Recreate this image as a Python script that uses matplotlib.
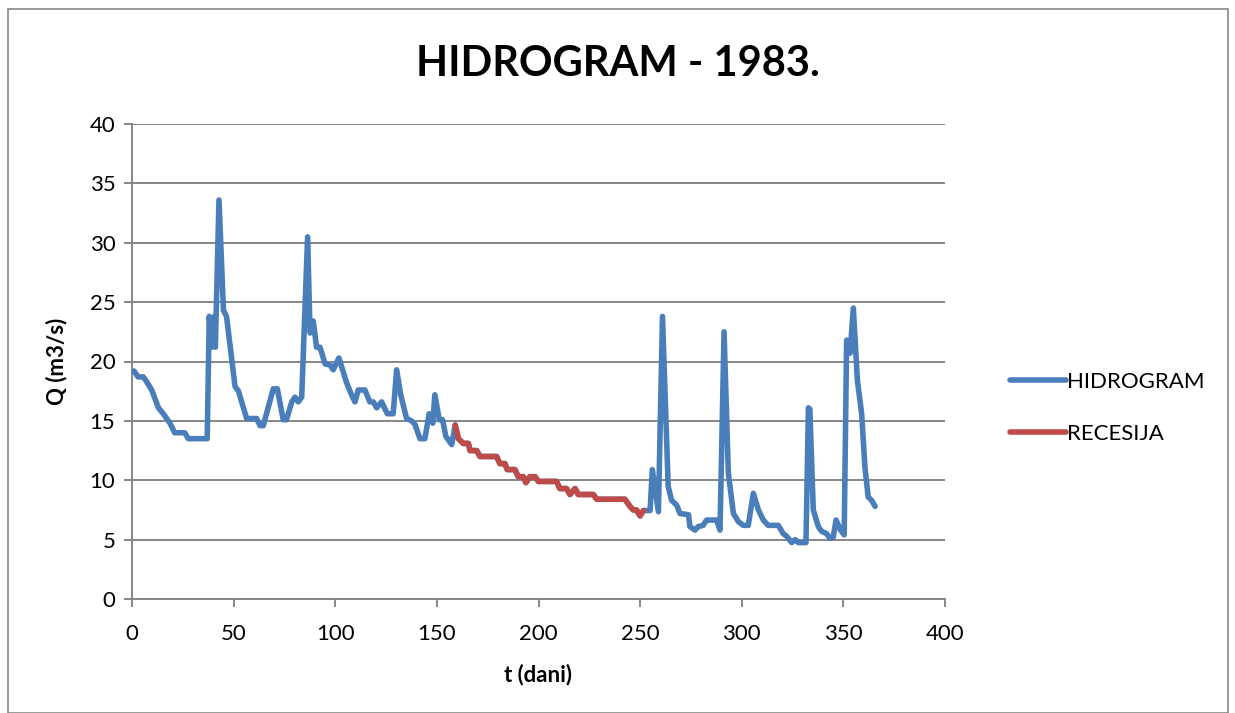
import matplotlib
matplotlib.use("Agg")
import matplotlib.pyplot as plt
from matplotlib.patches import Rectangle

# --- data ---
days_before = [1, 3, 5.6, 7.2, 9.7, 13, 15.4, 18.7, 21, 26, 27.7, 37, 38, 39.2, 40.5, 41,
               42.8, 45, 46.5, 50.7, 52.4, 56.4, 61.3, 63, 64.6, 69.5, 71.5, 74.4, 76,
               78.6, 80.2, 81.8, 83.5, 86.4, 87.6, 89.2, 90.8, 92.5, 95, 97.5, 99, 101.8,
               105.6, 108, 109.7, 111.3, 114.6, 117, 118.7, 120.4, 122.8, 125.6, 128.5,
               130.2, 132.2, 135.1, 137.6, 139.2, 141.7, 144.1, 146.2, 148, 149, 151.2,
               152.8, 154.4, 157.3, 159]
q_before = [19.2, 18.7, 18.7, 18.3, 17.6, 16.1, 15.6, 14.8, 14.0, 14.0, 13.5, 13.5, 23.8, 21.2,
            23.8, 21.2, 33.6, 24.3, 23.8, 17.9, 17.5, 15.2, 15.2, 14.6, 14.6, 17.7, 17.7, 15.1,
            15.1, 16.6, 17.0, 16.6, 17.0, 30.5, 22.4, 23.4, 21.2, 21.2, 19.8, 19.7, 19.3, 20.3,
            18.2, 17.2, 16.6, 17.6, 17.6, 16.6, 16.6, 16.1, 16.6, 15.6, 15.6, 19.3, 17.2, 15.2,
            15.0, 14.7, 13.5, 13.5, 15.6, 14.8, 17.2, 15.1, 15.1, 13.7, 13.0, 14.65]

days_rec = [159, 160.6, 163, 165.5, 166.3, 169.6, 171.2, 179.4, 181, 183.5, 184.6, 188.4, 190,
            192.5, 193.8, 195.8, 198.3, 199.9, 208.9, 210.5, 213.8, 215.5, 218, 219.6, 227,
            228.6, 242.5, 245, 246.6, 248.2, 250, 251.6]
q_rec = [14.65, 13.5, 13.1, 13.1, 12.5, 12.5, 12.0, 12.0, 11.4, 11.4, 10.9, 10.9, 10.3, 10.3,
         9.8, 10.3, 10.3, 9.9, 9.9, 9.3, 9.3, 8.8, 9.3, 8.8, 8.8, 8.4, 8.4, 7.8, 7.5, 7.5,
         7.0, 7.45]

days_after = [251.6, 254.9, 256, 259, 261, 263.8, 265.5, 268, 269.6, 273.8, 274.5, 277, 278.6,
              281, 282.7, 287.6, 289.3, 291.3, 293.4, 295.9, 298.4, 300.8, 303.2, 305.7, 308.2,
              310.6, 313, 318, 320.4, 322, 324.6, 326.3, 327.9, 331.6, 332.8, 333.5, 335.2,
              337.7, 339.3, 341.8, 343.4, 345, 346.4, 348.6, 350.4, 351.6, 353.3, 354.9, 356.9,
              359, 360.6, 362.2, 363.9, 365.6]
q_after = [7.45, 7.45, 10.9, 7.35, 23.8, 9.5, 8.3, 7.9, 7.2, 7.1, 6.1, 5.8, 6.1, 6.2, 6.65, 6.65,
           5.8, 22.5, 10.6, 7.2, 6.5, 6.2, 6.2, 8.9, 7.5, 6.65, 6.2, 6.2, 5.5, 5.3, 4.75, 5.0,
           4.75, 4.75, 16.1, 16.0, 7.5, 6.1, 5.7, 5.5, 5.1, 5.2, 6.65, 5.8, 5.4, 21.8, 20.7, 24.5,
           18.4, 15.6, 11.1, 8.6, 8.3, 7.8]

title = "HIDROGRAM - 1983."
xlabel = "t (dani)"
ylabel = "Q (m3/s)"
series_names = ["HIDROGRAM", "RECESIJA"]
x_ticks = [0, 50, 100, 150, 200, 250, 300, 350, 400]
y_ticks = [0, 5, 10, 15, 20, 25, 30, 35, 40]

plt.rcParams['font.family'] = ['Lato', 'DejaVu Sans']

fig = plt.figure(figsize=(12.35, 7.13), dpi=100)
ax = fig.add_axes([132/1235, 1-599/713, (945-132)/1235, (599-124)/713])

# outer chart border
fig.patches.append(Rectangle((8/1235, 0), (1228-8)/1235, 1-9/713, transform=fig.transFigure,
                             fill=False, edgecolor='#888888', linewidth=1.2, clip_on=False))

blue = '#4A7EBB'
red = '#BE4B48'
ax.plot(days_before + days_rec[1:] + days_after[1:], q_before + q_rec[1:] + q_after[1:],
        color=blue, lw=4.0, solid_joinstyle='round', solid_capstyle='round',
        label=series_names[0], zorder=3)
ax.plot(days_rec, q_rec, color=red, lw=4.0, solid_joinstyle='round', solid_capstyle='round',
        label=series_names[1], zorder=4)

ax.set_xlim(0, 400)
ax.set_ylim(0, 40)
ax.set_xticks(x_ticks)
ax.set_yticks(y_ticks)
ax.grid(axis='y', color='#868686', lw=1.4)
ax.set_axisbelow(True)
for s in ['top', 'right']:
    ax.spines[s].set_visible(False)
for s in ['left', 'bottom']:
    ax.spines[s].set_color('#868686')
    ax.spines[s].set_linewidth(1.4)
ax.tick_params(axis='both', colors='#868686', length=6, width=1.4, labelsize=16,
               labelcolor='black')
ax.tick_params(axis='x', pad=12)
ax.tick_params(axis='y', pad=6)

ax.set_xlabel(xlabel, fontsize=16, fontweight='bold', labelpad=14)
ax.set_ylabel(ylabel, fontsize=16, fontweight='bold', labelpad=16)
fig.text(618/1235, 1-64/713, title, ha='center', va='center', fontsize=30, fontweight='bold')

leg = ax.legend(loc='center left', bbox_to_anchor=(990/1235, 1-408/713),
                bbox_transform=fig.transFigure, frameon=False, fontsize=16,
                handlelength=2.5, handletextpad=0.05, labelspacing=1.45)

fig.savefig('out.png', dpi=100)
